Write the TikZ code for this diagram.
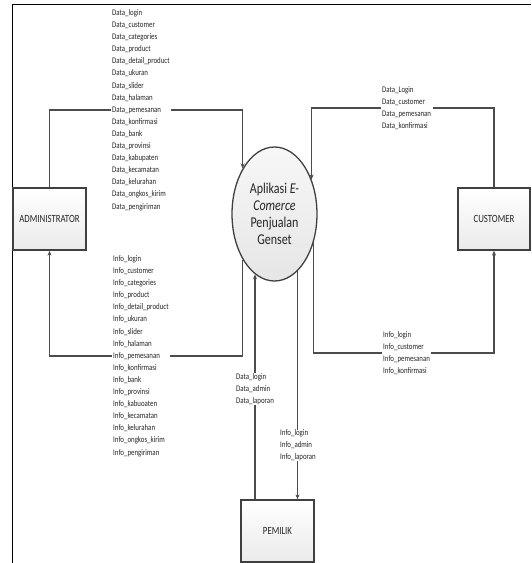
\documentclass[tikz,border=0pt]{standalone}
\usepackage{fontspec}
\newfontfamily\lbl[FakeStretch=0.8]{Carlito}
\usetikzlibrary{shapes.geometric,arrows.meta}
\begin{document}
\begin{tikzpicture}[x=1pt,y=-1pt,
  ent/.style={draw=black!75,line width=1.3pt,top color=white,bottom color=gray!16,minimum width=73pt,minimum height=62pt,inner sep=0pt,font=\lbl\fontsize{11}{13}\selectfont,text=black!85},
  proc/.style={ellipse,draw=black!75,line width=1.3pt,top color=gray!6,bottom color=gray!20,minimum width=85pt,minimum height=134pt,inner sep=0pt,align=center,font=\lbl\fontsize{15}{17}\selectfont,text=black!85},
  flow/.style={draw=black!70,line width=1.1pt,-{Stealth[length=5pt,width=4pt]}},
  lab/.style={fill=white,inner xsep=1.5pt,inner ysep=0pt,align=left,anchor=west,font=\lbl\fontsize{8.6}{12.1}\selectfont,text=black!85},
]
\useasboundingbox (0,0) rectangle (531,563);
\draw[black,line width=0.9pt] (12,563) -- (12,4) -- (531,4);

\node[ent] (adm) at (49.5,219) {ADMINISTRATOR};
\node[ent,minimum width=72pt] (cus) at (494,219) {CUSTOMER};
\node[ent] (pem) at (277.5,531) {PEMILIK};
\node[proc] (proc) at (274.5,214) {\raisebox{0pt}{Aplikasi \textit{E-}}\\\textit{Comerce}\\Penjualan\\Genset};

\coordinate (h1) at (0,110);
\coordinate (h2) at (0,108);
\coordinate (h3) at (0,356);
\coordinate (h4) at (0,353);
\coordinate (pL) at ([xshift=-22.5pt]pem.north);
\coordinate (pR) at ([xshift=20pt]pem.north);

\draw[flow] (adm.north) |- (proc.125 |- h1) -- (proc.125);
\draw[flow] (cus.north) |- (proc.43 |- h2) -- (proc.43);
\draw[flow] (proc.235) -- (proc.235 |- h3) -| (adm.south);
\draw[flow] (proc.324) -- (proc.324 |- h4) -| (cus.south);
\draw[flow] (pL) -- (proc.252 -| pL);
\draw[flow] (proc.292 -| pR) -- (pR);

\node[lab] (ad) at (110.5,110) {Data\_login\\Data\_customer\\Data\_categories\\Data\_product\\Data\_detail\_product\\Data\_ukuran\\Data\_slider\\Data\_halaman\\Data\_pemesanan\\Data\_konfirmasi\\Data\_bank\\Data\_provinsi\\Data\_kabupaten\\Data\_kecamatan\\Data\_kelurahan\\Data\_ongkos\_kirim\\Data\_pengiriman};
\node[lab] (ai) at (111.5,356) {Info\_login\\Info\_customer\\Info\_categories\\Info\_product\\Info\_detail\_product\\Info\_ukuran\\Info\_slider\\Info\_halaman\\Info\_pemesanan\\Info\_konfirmasi\\Info\_bank\\Info\_provinsi\\Info\_kabuoaten\\Info\_kecamatan\\Info\_kelurahan\\Info\_ongkos\_kirim\\Info\_pengiriman};
\node[lab] (cd) at (380.5,108) {Data\_Login\\Data\_customer\\Data\_pemesanan\\Data\_konfirmasi};
\node[lab] (ci) at (381.5,353) {Info\_login\\Info\_customer\\Info\_pemesanan\\Info\_konfirmasi};
\node[lab] (pd) at (234.5,389) {Data\_login\\Data\_admin\\Data\_laporan};
\node[lab] (pi) at (278.5,445.5) {Info\_login\\Info\_admin\\Info\_laporan};
\end{tikzpicture}
\end{document}
